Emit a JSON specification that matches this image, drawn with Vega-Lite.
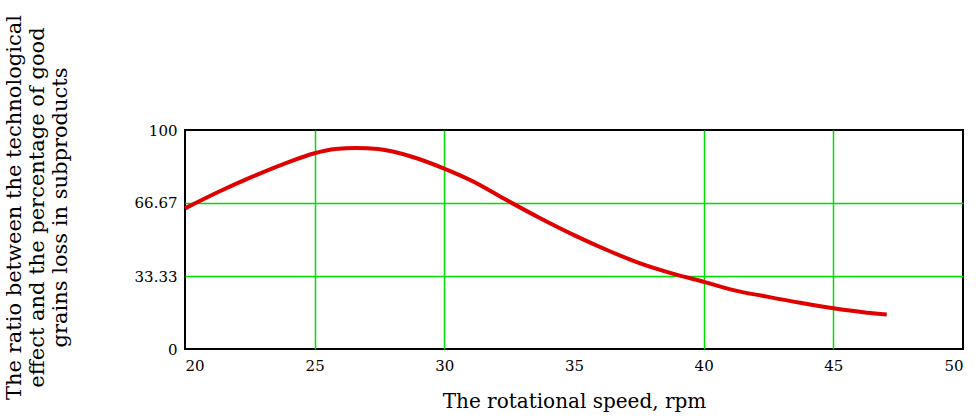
{
  "$schema": "https://vega.github.io/schema/vega-lite/v6.json",
  "width": 778,
  "height": 219,
  "autosize": {"type": "none"},
  "padding": {"left": 185, "top": 130, "right": 15, "bottom": 68},
  "background": "white",
  "config": {
    "view": {"stroke": "black", "strokeWidth": 2},
    "font": "DejaVu Serif"
  },
  "data": {
    "values": [
      {"speed": 20.0, "ratio": 64.2},
      {"speed": 21.3, "ratio": 71.8},
      {"speed": 22.6, "ratio": 78.7},
      {"speed": 23.87, "ratio": 84.8},
      {"speed": 25.0, "ratio": 89.4},
      {"speed": 25.8, "ratio": 91.3},
      {"speed": 26.6, "ratio": 91.8},
      {"speed": 27.45, "ratio": 91.3},
      {"speed": 28.75, "ratio": 87.8},
      {"speed": 29.97, "ratio": 82.5},
      {"speed": 31.13, "ratio": 76.4},
      {"speed": 32.4, "ratio": 68.0},
      {"speed": 33.7, "ratio": 59.7},
      {"speed": 34.98, "ratio": 52.1},
      {"speed": 36.27, "ratio": 45.2},
      {"speed": 37.55, "ratio": 39.1},
      {"speed": 38.84, "ratio": 34.3},
      {"speed": 40.12, "ratio": 30.3},
      {"speed": 41.15, "ratio": 26.9},
      {"speed": 42.44, "ratio": 23.9},
      {"speed": 43.72, "ratio": 21.1},
      {"speed": 45.0, "ratio": 18.6},
      {"speed": 46.29, "ratio": 16.6},
      {"speed": 47.06, "ratio": 15.8}
    ]
  },
  "mark": {"type": "line", "color": "#e00000", "strokeWidth": 4, "interpolate": "monotone"},
  "encoding": {
    "x": {
      "field": "speed",
      "type": "quantitative",
      "scale": {"domain": [20, 50], "nice": false, "zero": false},
      "axis": {
        "values": [20, 25, 30, 35, 40, 45, 50],
        "title": "The rotational speed,  rpm",
        "titleFont": "DejaVu Serif",
        "titleFontSize": 20,
        "titleFontWeight": "normal",
        "titleColor": "black",
        "titlePadding": 18,
        "labelFont": "DejaVu Serif",
        "labelFontSize": 15,
        "labelColor": "black",
        "labelFlush": true,
        "labelPadding": 9,
        "ticks": false,
        "domain": false,
        "grid": true,
        "gridColor": "#00dd00",
        "gridWidth": 1.5,
        "gridOpacity": {"condition": {"test": "datum.value === 20 || datum.value === 35 || datum.value === 50", "value": 0}, "value": 1}
      }
    },
    "y": {
      "field": "ratio",
      "type": "quantitative",
      "scale": {"domain": [0, 100], "nice": false},
      "axis": {
        "values": [0, 33.33, 66.67, 100],
        "labelExpr": "datum.value === 0 ? '0' : datum.value === 100 ? '100' : format(datum.value, '.2f')",
        "title": ["The ratio between the technological", "effect and the percentage of good", "grains loss in subproducts"],
        "titleFont": "DejaVu Serif",
        "titleFontSize": 21,
        "titleFontWeight": "normal",
        "titleColor": "black",
        "titleAngle": -90,
        "titleAlign": "center",
        "titleBaseline": "top",
        "titleLineHeight": 23,
        "titleX": -182,
        "titleY": 77,
        "labelFont": "DejaVu Serif",
        "labelFontSize": 15,
        "labelColor": "black",
        "labelPadding": 8,
        "ticks": false,
        "domain": false,
        "grid": true,
        "gridColor": "#00dd00",
        "gridWidth": 1.5,
        "gridOpacity": {"condition": {"test": "datum.value === 0 || datum.value === 100", "value": 0}, "value": 1}
      }
    }
  }
}
